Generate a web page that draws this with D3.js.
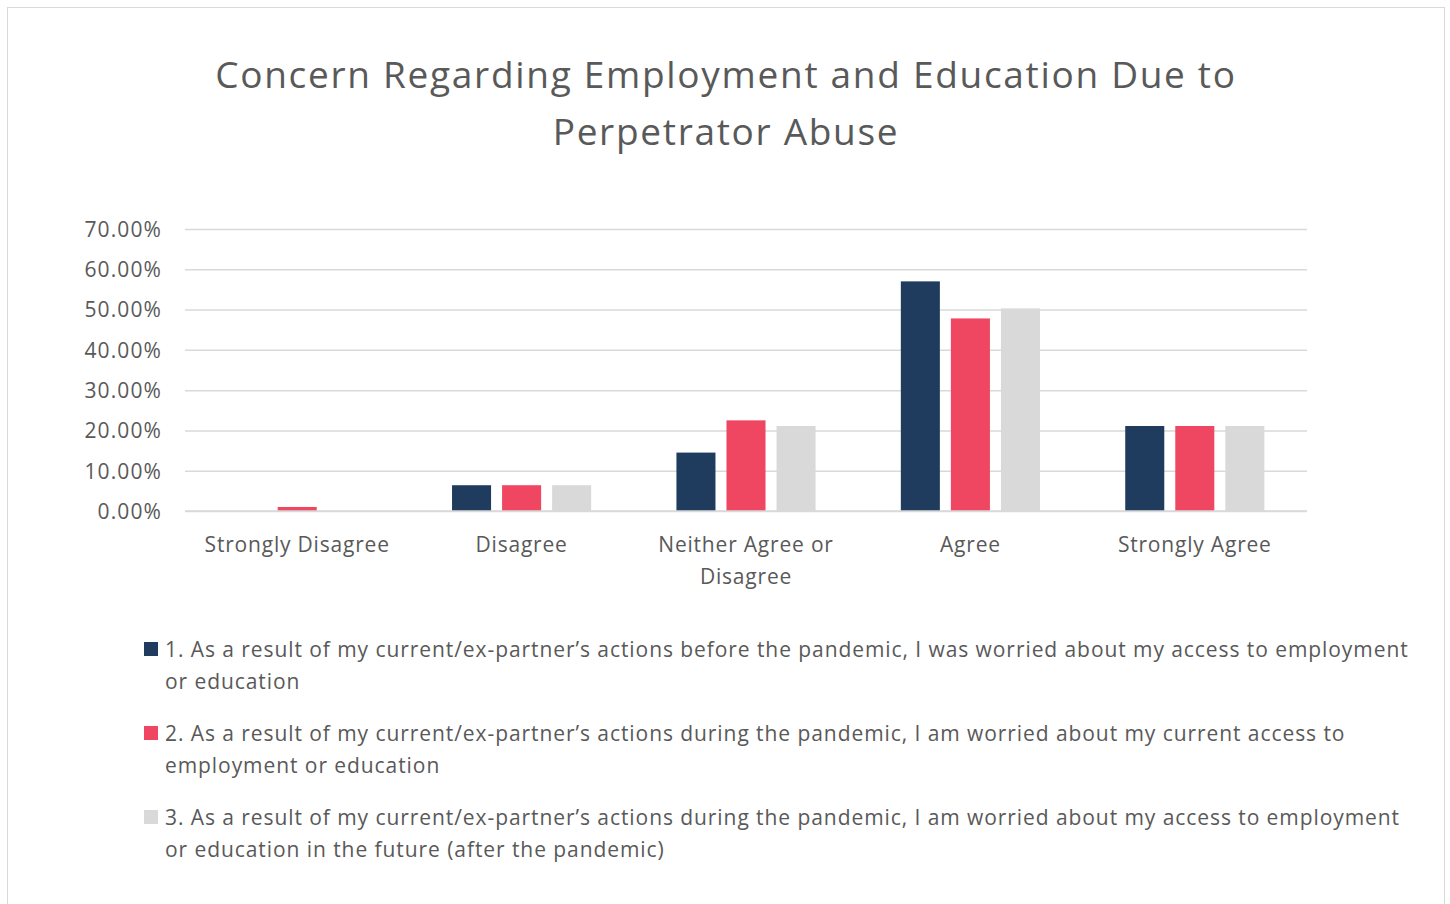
<!DOCTYPE html>
<html>
<head>
<meta charset="utf-8">
<script src="https://cdn.jsdelivr.net/npm/d3@7"></script>
<style>
  html, body { margin: 0; padding: 0; background: #fff; }
  svg { display: block; }
  text { font-family: "Open Sans", "Lato", sans-serif; fill: #595959; }
</style>
</head>
<body>
<svg id="chart" width="1450" height="904"></svg>
<script>
// Response categories along the x axis
const categories = ["Strongly Disagree", "Disagree", "Neither Agree or Disagree", "Agree", "Strongly Agree"];
const categoryLines = [["Strongly Disagree"], ["Disagree"], ["Neither Agree or", "Disagree"], ["Agree"], ["Strongly Agree"]];

// Share of respondents (%) per statement
const beforePandemic = [0, 6.4, 14.5, 57.0, 21.1];
const duringCurrent  = [1.0, 6.4, 22.5, 47.8, 21.1];
const duringFuture   = [0, 6.4, 21.1, 50.3, 21.1];

const seriesNames = ["s1", "s2", "s3"];
const seriesValues = [beforePandemic, duringCurrent, duringFuture];
const seriesColors = ["#1F3C5E", "#EF4661", "#D9D9D9"];
const legendLines = [
  ["1. As a result of my current/ex-partner\u2019s actions before the pandemic, I was worried about my access to employment", "or education"],
  ["2. As a result of my current/ex-partner\u2019s actions during the pandemic, I am worried about my current access to", "employment or education"],
  ["3. As a result of my current/ex-partner\u2019s actions during the pandemic, I am worried about my access to employment", "or education in the future (after the pandemic)"]
];

const yTicks = [0, 10, 20, 30, 40, 50, 60, 70];
const titleLines = ["Concern Regarding Employment and Education Due to", "Perpetrator Abuse"];

const svg = d3.select("#chart");

// outer frame
svg.append("rect")
  .attr("x", 7.5).attr("y", 7.5)
  .attr("width", 1437).attr("height", 910)
  .attr("fill", "#fff").attr("stroke", "#D9D9D9").attr("stroke-width", 1);

// title
svg.append("g").selectAll("text")
  .data(titleLines).join("text")
  .attr("x", 726)
  .attr("y", (d, i) => 88 + i * 57)
  .attr("text-anchor", "middle")
  .style("font-size", "37px")
  .style("letter-spacing", "1.7px")
  .text(d => d);

const plot = { left: 185, right: 1307, top: 229, bottom: 511 };

const y = d3.scaleLinear().domain([0, 70]).range([plot.bottom, plot.top]);
const x0 = d3.scaleBand().domain(categories).range([plot.left, plot.right])
  .paddingInner(0.38).paddingOuter(0.19);
const x1 = d3.scaleBand().domain(seriesNames).range([0, x0.bandwidth()]).paddingInner(0.22);

// gridlines
const yAxis = d3.axisLeft(y).tickValues(yTicks)
  .tickSize(-(plot.right - plot.left))
  .tickFormat(d => d.toFixed(2) + "%");
const gy = svg.append("g").attr("transform", `translate(${plot.left},0)`).call(yAxis);
gy.select(".domain").remove();
gy.selectAll(".tick line").attr("stroke", "#D9D9D9").attr("stroke-width", 1.5);
gy.selectAll(".tick text")
  .attr("x", -23).attr("dy", "0.35em")
  .style("font-size", "21px").style("fill", "#595959")
  .style("letter-spacing", "1.1px")
  .style("font-family", "'Open Sans', Lato, sans-serif");

// bars
const groups = svg.append("g").selectAll("g")
  .data(categories).join("g")
  .attr("transform", d => `translate(${x0(d)},0)`);

groups.selectAll("rect")
  .data((c, ci) => seriesNames.map((s, si) => ({ s, si, v: seriesValues[si][ci] })))
  .join("rect")
  .attr("x", d => x1(d.s))
  .attr("width", x1.bandwidth())
  .attr("y", d => y(d.v))
  .attr("height", d => y(0) - y(d.v))
  .attr("fill", d => seriesColors[d.si]);

// baseline drawn over bars
svg.append("line")
  .attr("x1", plot.left).attr("x2", plot.right)
  .attr("y1", y(0)).attr("y2", y(0))
  .attr("stroke", "#D9D9D9").attr("stroke-width", 1.5);

// category labels
const xAxis = svg.append("g");
categories.forEach((c, i) => {
  const cx = x0(c) + x0.bandwidth() / 2;
  const t = xAxis.append("text")
    .attr("text-anchor", "middle")
    .style("font-size", "21px")
    .style("letter-spacing", "0.8px");
  categoryLines[i].forEach((line, li) => {
    t.append("tspan").attr("x", cx).attr("y", 552 + li * 32).text(line);
  });
});

// legend
const legend = svg.append("g");
legendLines.forEach((lines, i) => {
  const top = 642 + i * 84;
  legend.append("rect")
    .attr("x", 144).attr("y", top)
    .attr("width", 14).attr("height", 14)
    .attr("fill", seriesColors[i]);
  lines.forEach((line, li) => {
    legend.append("text")
      .attr("x", 165).attr("y", top + 15 + li * 32)
      .style("font-size", "21px")
      .style("letter-spacing", "0.93px")
      .text(line);
  });
});
</script>
</body>
</html>
